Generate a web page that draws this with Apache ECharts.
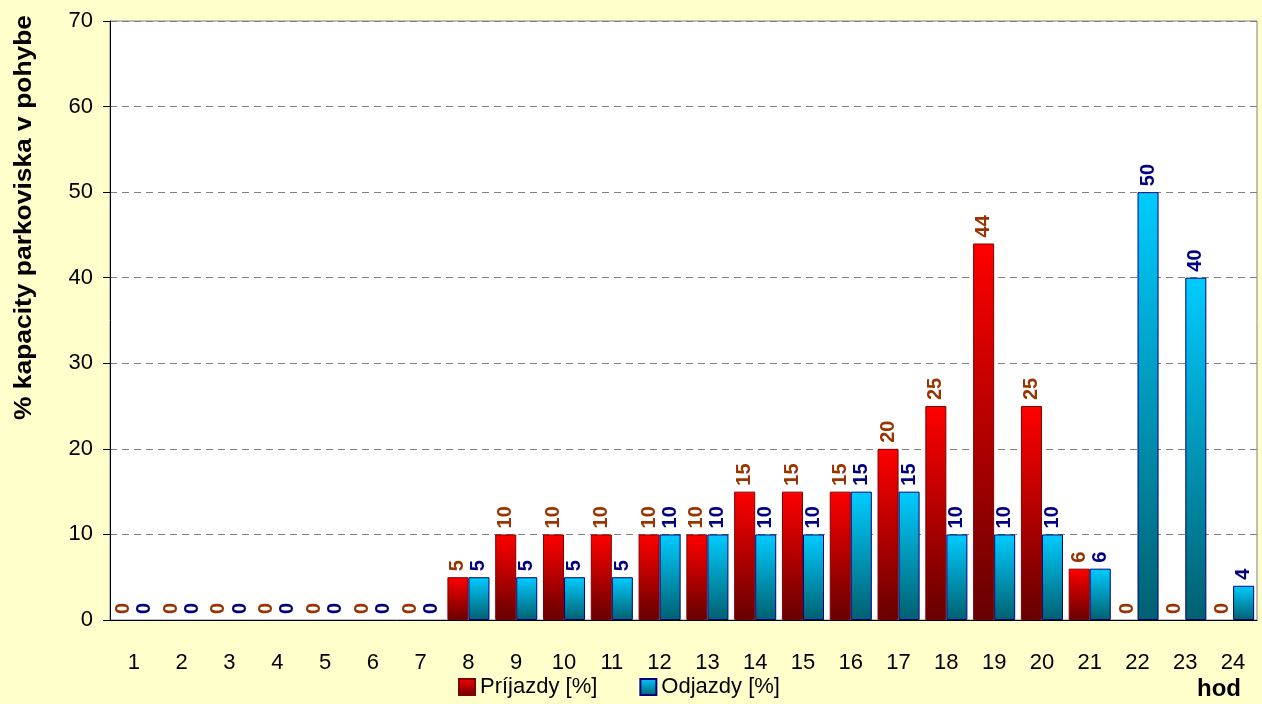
<!DOCTYPE html>
<html>
<head>
<meta charset="utf-8">
<script src="https://cdn.jsdelivr.net/npm/echarts@6/dist/echarts.min.js"></script>
<style>
  html, body { margin: 0; padding: 0; background: #ffffcc; }
  #chart { width: 1262px; height: 704px; }
</style>
</head>
<body>
<div id="chart"></div>
<script>
const hours = ['1','2','3','4','5','6','7','8','9','10','11','12','13','14','15','16','17','18','19','20','21','22','23','24'];
const arrivals = [0,0,0,0,0,0,0,5,10,10,10,10,10,15,15,15,20,25,44,25,6,0,0,0];
const departures = [0,0,0,0,0,0,0,5,5,5,5,10,10,10,10,15,15,10,10,10,6,50,40,4];
const yTicks = { min: 0, max: 70, interval: 10 };

const font = '"Liberation Sans", Arial, sans-serif';

function grad(top, bottom) {
  return new echarts.graphic.LinearGradient(0, 0, 0, 1, [
    { offset: 0, color: top },
    { offset: 1, color: bottom }
  ]);
}

// zero bars have no visible outline in the original
function items(values) {
  return values.map(v => v === 0 ? { value: v, itemStyle: { borderWidth: 0 } } : v);
}

function barLabel(color) {
  return {
    show: true, position: 'top', rotate: 90, align: 'left', verticalAlign: 'middle',
    distance: 6, fontFamily: font, fontWeight: 'bold', fontSize: 20, color: color
  };
}

const chart = echarts.init(document.getElementById('chart'));

chart.setOption({
  backgroundColor: '#ffffcc',
  animation: false,
  grid: {
    left: 110, right: 5, top: 21, bottom: 84,
    show: true, backgroundColor: '#ffffff', borderColor: '#808080', borderWidth: 1
  },
  legend: {
    bottom: 1, left: 453,
    icon: 'rect',
    itemWidth: 16, itemHeight: 16, itemGap: 42,
    textStyle: { fontFamily: font, fontSize: 22, color: '#000' },
    data: ['Príjazdy [%]', 'Odjazdy [%]']
  },
  graphic: [
    {
      type: 'text',
      x: 12, y: 15,
      rotation: Math.PI / 2,
      scaleX: 1.1,
      style: {
        text: '% kapacity parkoviska v pohybe',
        font: 'bold 24px ' + font, fill: '#000',
        align: 'right', verticalAlign: 'top'
      }
    },
    {
      type: 'text', x: 1197, y: 677,
      style: { text: 'hod', font: 'bold 24px ' + font, fill: '#000' }
    }
  ],
  xAxis: {
    type: 'category',
    data: hours,
    axisLine: { lineStyle: { color: '#000', width: 1 } },
    axisTick: { length: 7, lineStyle: { color: '#000' } },
    axisLabel: { fontFamily: font, fontSize: 22, color: '#000', margin: 32 }
  },
  yAxis: {
    type: 'value',
    min: yTicks.min, max: yTicks.max, interval: yTicks.interval,
    axisLine: { show: true, lineStyle: { color: '#000', width: 1 } },
    axisTick: { show: true, length: 7, lineStyle: { color: '#000' } },
    axisLabel: { fontFamily: font, fontSize: 22, color: '#000', margin: 17 },
    splitLine: { lineStyle: { color: '#808080', type: [7, 5] } }
  },
  series: [
    {
      name: 'Príjazdy [%]',
      type: 'bar',
      data: items(arrivals),
      barWidth: '44%',
      barGap: '0%',
      itemStyle: { color: grad('#ff0000', '#660000'), borderColor: '#800000', borderWidth: 1 },
      label: barLabel('#993300')
    },
    {
      name: 'Odjazdy [%]',
      type: 'bar',
      data: items(departures),
      barWidth: '44%',
      itemStyle: { color: grad('#00ccff', '#006070'), borderColor: '#000080', borderWidth: 1 },
      label: barLabel('#000080')
    }
  ]
});
</script>
</body>
</html>
